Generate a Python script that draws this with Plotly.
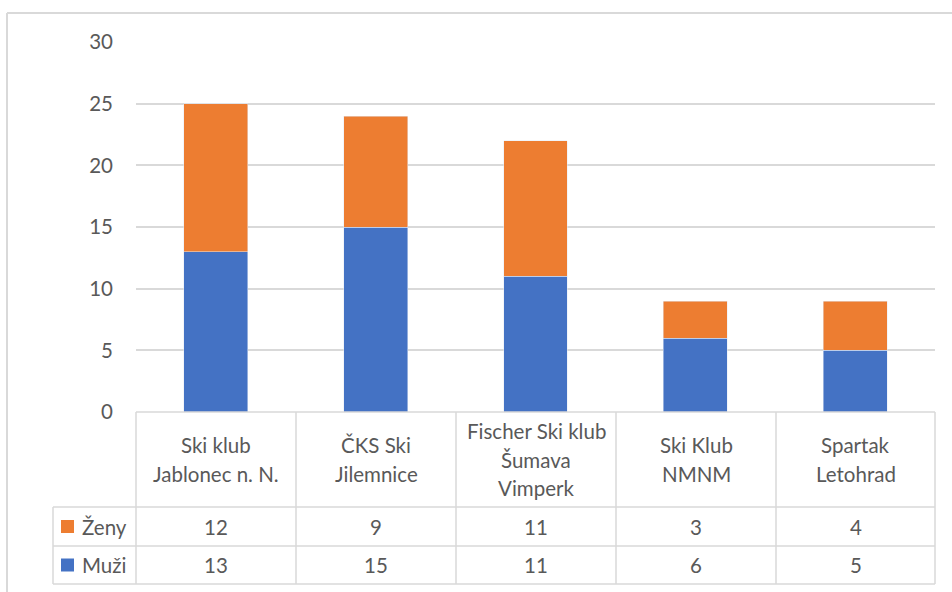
import plotly.graph_objects as go

W, H = 952, 592

# Data
clubs = [
    ["Ski klub", "Jablonec n. N."],
    ["ČKS Ski", "Jilemnice"],
    ["Fischer Ski klub", "Šumava", "Vimperk"],
    ["Ski Klub", "NMNM"],
    ["Spartak", "Letohrad"],
]
club_names = [" ".join(c) for c in clubs]
muzi = [13, 15, 11, 6, 5]
zeny = [12, 9, 11, 3, 4]
y_ticks = [0, 5, 10, 15, 20, 25, 30]

ORANGE = "#ED7D31"
BLUE = "#4472C4"
GRID = "#D9D9D9"
TXT = "#595959"
FONT = "Lato"
FS = 20.5

def px(x):
    return x / W

def py(y):
    return 1 - y / H

x0, x1 = 136, 935
y_top, y_zero = 42, 412

fig = go.Figure()
fig.add_trace(go.Bar(x=club_names, y=muzi, name="Muži", marker_color=BLUE))
fig.add_trace(go.Bar(x=club_names, y=zeny, name="Ženy", marker_color=ORANGE))

fig.update_layout(
    width=W, height=H,
    margin=dict(l=0, r=0, t=0, b=0, autoexpand=False),
    barmode="stack", bargap=0.6,
    showlegend=False,
    plot_bgcolor="white", paper_bgcolor="white",
    font=dict(family=FONT, color=TXT, size=FS),
)
fig.update_xaxes(domain=[px(x0), px(x1)], showticklabels=False, showgrid=False,
                 zeroline=False, showline=False, range=[-0.5, 4.5], automargin=False)
fig.update_yaxes(domain=[py(y_zero), py(y_top)], range=[0, 30], tickvals=y_ticks,
                 showgrid=True, gridcolor=GRID, gridwidth=1.5, zeroline=False,
                 showline=False, ticks="", ticklabelstandoff=22, automargin=False,
                 tickfont=dict(family=FONT, size=FS, color=TXT))

shapes = []
def line(xa, ya, xb, yb, w=1.5, c=GRID):
    shapes.append(dict(type="line", xref="paper", yref="paper",
                       x0=px(xa), y0=py(ya), x1=px(xb), y1=py(yb),
                       line=dict(color=c, width=w)))

# outer frame
line(7, 13, W, 13, w=2)
line(7, 13, 7, H, w=2)

# table
col_edges = [136, 296, 456, 616, 776, 935]
row_h = [412, 507, 546, 584]
line(136, 412, 935, 412)
for yy in row_h[1:]:
    line(53, yy, 935, yy)
for xx in col_edges:
    line(xx, 412, xx, 584)
line(53, 507, 53, 584)

annotations = []
def txt(x, y, s, size=FS, xanchor="center"):
    annotations.append(dict(xref="paper", yref="paper", x=px(x), y=py(y), text=s,
                            showarrow=False, xanchor=xanchor, yanchor="middle",
                            font=dict(family=FONT, size=size, color=TXT)))

lh = 28.5
hc = (412 + 507) / 2
for i, lines in enumerate(clubs):
    cx = (col_edges[i] + col_edges[i + 1]) / 2
    n = len(lines)
    for j, s in enumerate(lines):
        txt(cx, hc + (j - (n - 1) / 2) * lh, s)
    txt(cx, (507 + 546) / 2, str(zeny[i]))
    txt(cx, (546 + 584) / 2, str(muzi[i]))

# legend keys in table
for yy, name, col in [((507 + 546) / 2, "Ženy", ORANGE), ((546 + 584) / 2, "Muži", BLUE)]:
    shapes.append(dict(type="rect", xref="paper", yref="paper",
                       x0=px(61), x1=px(74), y0=py(yy - 6.5), y1=py(yy + 6.5),
                       fillcolor=col, line=dict(width=0)))
    txt(80, yy, name, xanchor="left")

fig.update_layout(shapes=shapes, annotations=annotations)
fig.write_html("out.html", config={"displayModeBar": False},
               post_script="document.body.style.margin='0';document.body.style.overflow='hidden';")
